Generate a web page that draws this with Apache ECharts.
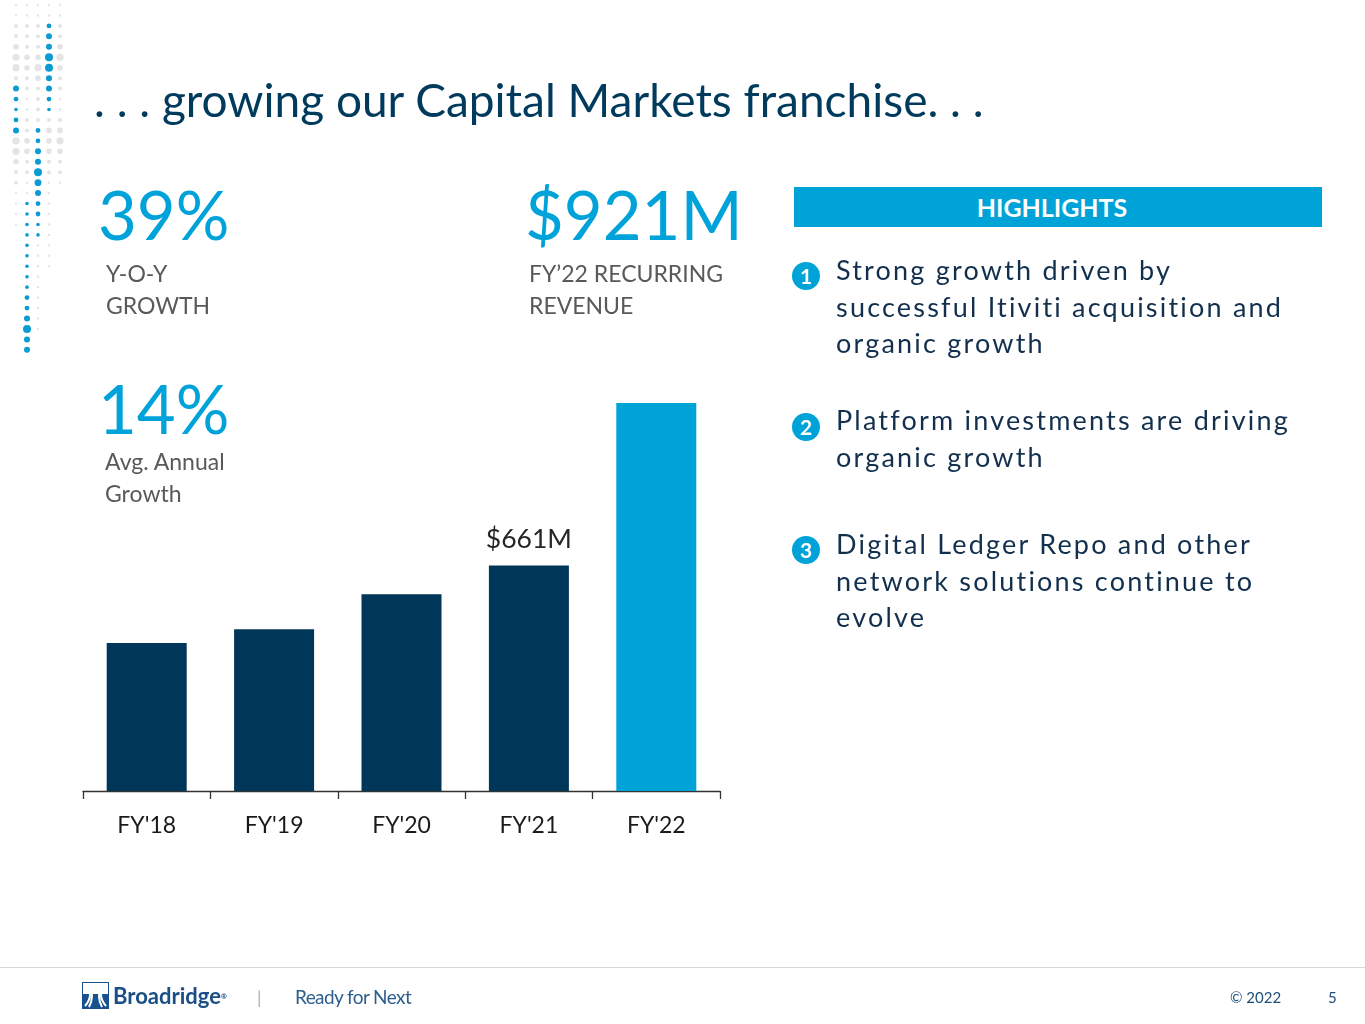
<!DOCTYPE html>
<html>
<head>
<meta charset="utf-8">
<script src="https://cdn.jsdelivr.net/npm/echarts@6.0.0/dist/echarts.min.js"></script>
<style>
  body { margin: 0; width: 1365px; height: 1024px; background: #fff; overflow: hidden; font-family: Lato, 'Open Sans', sans-serif; }
  #chart { position: absolute; left: 0; top: 0; width: 1365px; height: 1024px; }
  .t { position: absolute; white-space: nowrap; }
  .title { left: 94px; top: 72px; font-size: 46px; line-height: 56px; color: #003a5c; }
  .kpi { font-size: 67px; line-height: 80px; color: #00a3d9; }
  .sub { font-size: 23px; line-height: 32px; color: #595959; }
  .hl-bar { left: 794px; top: 187px; width: 528px; height: 40px; background: #00a3d7; color: #fff;
            font-weight: bold; font-size: 25px; line-height: 40px; text-align: center; box-sizing: border-box; padding-right: 12px; }
  .item { left: 836px; font-size: 27px; line-height: 36.5px; letter-spacing: 2.2px; color: #12304e; }
  .num { width: 28px; height: 28px; border-radius: 50%; background: #00a3d7; color: #fff;
         font-weight: bold; font-size: 21px; line-height: 28px; text-align: center; }
  .rule { left: 0; top: 967px; width: 1365px; height: 1px; background: #d6d6d6; }
  .foot { font-size: 15px; line-height: 20px; color: #1f4e79; top: 987px; }
</style>
</head>
<body>
<div id="chart"></div>

<div class="t title">. . . growing our Capital Markets franchise. . .</div>

<div class="t kpi" style="left:98px;top:174px">39%</div>
<div class="t sub" style="left:106px;top:257px">Y-O-Y<br>GROWTH</div>

<div class="t kpi" style="left:525px;top:174px">$921M</div>
<div class="t sub" style="left:529px;top:257px">FY’22 RECURRING<br>REVENUE</div>

<div class="t kpi" style="left:98px;top:368px">14%</div>
<div class="t sub" style="left:105px;top:445px">Avg. Annual<br>Growth</div>

<div class="t hl-bar">HIGHLIGHTS</div>

<div class="t num" style="left:792px;top:262px">1</div>
<div class="t item" style="top:252px">Strong growth driven by<br>successful Itiviti acquisition and<br>organic growth</div>

<div class="t num" style="left:792px;top:413px">2</div>
<div class="t item" style="top:402px">Platform investments are driving<br>organic growth</div>

<div class="t num" style="left:792px;top:536px">3</div>
<div class="t item" style="top:526px">Digital Ledger Repo and other<br>network solutions continue to<br>evolve</div>

<div class="t rule"></div>
<svg class="t" style="left:82px;top:982px" width="27" height="27" viewBox="0 0 27 27">
  <rect width="27" height="27" fill="#17528c"/>
  <rect x="1" y="1" width="25" height="11" fill="#fff"/>
  <path d="M3 4 Q13 12 3 24 M24 4 Q14 12 24 24 M7 3 Q13 14 7 25 M20 3 Q14 14 20 25" stroke="#fff" stroke-width="2" fill="none"/>
</svg>
<div class="t" style="left:113px;top:982px;font-size:22px;line-height:28px;font-weight:bold;color:#1a4f86">Broadridge<span style="font-size:7px;vertical-align:top">®</span></div>
<div class="t" style="left:257px;top:985px;font-size:18px;line-height:24px;color:#b0b0b0">|</div>
<div class="t" style="left:295px;top:984px;font-size:19px;line-height:26px;color:#2d5e8e;letter-spacing:-0.6px">Ready for Next</div>
<div class="t foot" style="left:1230px">© 2022</div>
<div class="t foot" style="left:1328px">5</div>

<script>
const categories = ["FY'18", "FY'19", "FY'20", "FY'21", "FY'22"];
const revenue = [537, 559, 615, 661, 921];      // $M
const labelled = ["FY'21"];                      // bars carrying a value label
const highlighted = ["FY'22"];                   // bars drawn in light blue

// decorative dot column (top-left), one char per row
// grey sizes 1-4, blue sizes a-e, spaced ~10.45px
const dotColumns = [
  '11223442cbabc443221111',
  '1122233221122332211aaaaaaaaabbcecc',
  '112223432222bbccedcbbaa111111111',
  '11bcceeccba233322111111111',
  '112234322112343221',
];
const DOT_R = { '1': 1.2, '2': 2, '3': 2.8, '4': 3.6, a: 1.8, b: 2.4, c: 3, d: 3.4, e: 4 };

const NAVY = '#003657';
const CYAN = '#00a3d7';

const dots = [];
dotColumns.forEach((col, c) => {
  col.split('').forEach((ch, r) => {
    const blue = ch >= 'a';
    dots.push({
      type: 'circle',
      shape: { cx: 16 + c * 11, cy: 5 + r * 10.45, r: DOT_R[ch] },
      style: { fill: blue ? '#0a9bd3' : '#e4e4e4' },
      silent: true,
    });
  });
});

const chart = echarts.init(document.getElementById('chart'), null, { renderer: 'canvas' });
chart.setOption({
  animation: false,
  textStyle: { fontFamily: 'Lato, sans-serif' },
  grid: { left: 83, width: 637, top: 403, height: 388, containLabel: false },
  xAxis: {
    type: 'category',
    data: categories,
    axisLine: { lineStyle: { color: '#333', width: 1.3 } },
    axisTick: { show: true, length: 8, interval: 0, lineStyle: { color: '#333', width: 1.3 } },
    axisLabel: { color: '#1a1a1a', fontSize: 23, margin: 23, interval: 0 },
  },
  yAxis: { type: 'value', min: 300, max: 921, show: false, splitLine: { show: false } },
  series: [{
    type: 'bar',
    barWidth: 80,
    data: revenue.map((v, i) => ({
      value: v,
      itemStyle: { color: highlighted.includes(categories[i]) ? CYAN : NAVY },
      label: {
        show: labelled.includes(categories[i]),
        position: 'top',
        distance: 12,
        formatter: p => '$' + p.value + 'M',
        color: '#262626',
        fontSize: 26.5,
      },
    })),
  }],
  graphic: dots,
});
</script>
</body>
</html>
